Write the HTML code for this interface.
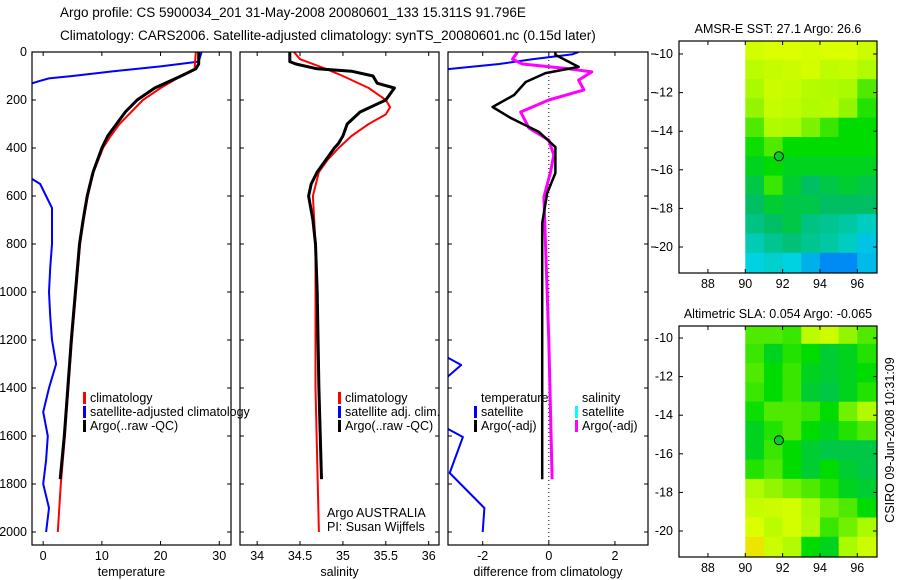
<!DOCTYPE html>
<html><head><meta charset="utf-8">
<style>
body{margin:0;background:#fff;}
svg{display:block;font-family:"Liberation Sans",sans-serif;}
text{font-size:12.5px;fill:#000;}
</style></head>
<body>
<svg id="c" width="900" height="580" viewBox="0 0 900 580">
<text x="60" y="17" style="font-size:13.5px">Argo profile: CS 5900034_201 31-May-2008 20080601_133 15.311S 91.796E</text>
<text x="60" y="40" style="font-size:13.5px">Climatology: CARS2006. Satellite-adjusted climatology: synTS_20080601.nc (0.15d later)</text>
</svg>
<script>
// ---------- data ----------
const depthTicks=[0,200,400,600,800,1000,1200,1400,1600,1800,2000];
const tempTicks=[0,10,20,30];
const salTicks=[34,34.5,35,35.5,36];
const diffTicks=[-2,0,2];
const tArgoD=[0,50,70,100,150,200,250,300,350,400,500,600,700,800,1000,1200,1400,1600,1780];
const tArgoV=[26.5,26.5,26,23.5,19,16,14,12.5,11,10,8.5,7.5,6.8,6.2,5.5,4.8,4.2,3.6,2.9];
const tClimD=[0,70,100,150,200,250,300,350,400,500,600,700,800,1000,1200,1400,1600,1800,2000];
const tClimV=[26,25.8,23.5,20,17,15,13,11.5,10.2,8.6,7.6,6.9,6.3,5.6,4.9,4.3,3.7,3.0,2.5];
const tSatD=[0,40,60,80,100,110,120,135,520,550,600,650,800,900,1000,1100,1200,1300,1400,1500,1600,1700,1800,1900,2000];
const tSatV=[27,26.5,20,12,5,1,-0.5,-2.5,-2.5,-0.5,0.5,1.5,1.5,1.2,1,1.2,1.5,2.2,1,0,0.8,0.5,0,1,0.5];
const sArgoD=[0,40,50,70,80,100,130,150,200,250,300,350,380,400,450,500,550,600,700,800,1000,1400,1780];
const sArgoV=[34.38,34.38,34.45,34.7,35.1,35.35,35.4,35.6,35.5,35.2,35.05,35.0,34.95,34.9,34.8,34.7,34.63,34.6,34.65,34.68,34.7,34.72,34.75];
const sClimD=[0,30,70,100,150,200,230,260,300,350,400,450,500,600,800,1400,2000];
const sClimV=[34.43,34.5,34.8,35.0,35.3,35.5,35.55,35.5,35.3,35.1,34.95,34.82,34.72,34.65,34.68,34.68,34.72];
const dTArgoD=[0,12,62,88,125,179,229,275,333,396,504,588,713,1000,1400,1780];
const dTArgoV=[0.2,0.2,0.9,-0.1,-0.7,-1.05,-1.7,-1.15,-0.3,0.2,0.2,-0.05,-0.2,-0.2,-0.2,-0.2];
const dSArgoD=[0,30,50,70,83,117,158,200,250,317,367,429,500,604,800,1200,1780];
const dSArgoV=[-0.95,-1.1,-0.8,0.6,1.3,0.9,1.06,0,-0.85,-0.6,0,0.15,0.05,-0.15,-0.1,0,0.1];
const dTSat1D=[0,10,30,50,65,72];
const dTSat1V=[0.9,0.7,-0.5,-1.5,-2.6,-3.1];
const dTSat2D=[1270,1304,1358];
const dTSat2V=[-3.1,-2.65,-3.1];
const dTSat3D=[1567,1604,1754,1900,2000];
const dTSat3V=[-3.1,-2.6,-3.0,-1.95,-2.0];
const lonTicks=[88,90,92,94,96];
const latTicks=[-10,-12,-14,-16,-18,-20];
const sstGrid=[
[.82,.84,.85,.83,.84,.84,.80],[.75,.78,.80,.82,.76,.78,.72],[.70,.80,.78,.74,.72,.70,.62],
[.68,.78,.76,.72,.74,.68,.58],[.62,.72,.70,.66,.60,.55,.55],[.56,.62,.55,.55,.55,.55,.55],
[.52,.55,.52,.52,.52,.52,.52],[.48,.60,.50,.45,.48,.50,.48],[.45,.50,.48,.48,.45,.45,.45],
[.40,.45,.48,.40,.38,.35,.30],[.32,.38,.42,.38,.35,.30,.22],[.25,.28,.25,.18,.10,.10,.20]];
const slaGrid=[
[.62,.62,.60,.75,.80,.68,.62],[.60,.52,.58,.55,.50,.52,.58],[.62,.55,.60,.52,.50,.52,.55],
[.60,.55,.60,.50,.48,.52,.58],[.56,.62,.62,.60,.55,.65,.72],[.52,.58,.62,.55,.52,.58,.62],
[.52,.60,.55,.50,.48,.48,.48],[.58,.62,.55,.50,.55,.50,.48],[.72,.68,.65,.62,.58,.52,.50],
[.78,.80,.82,.70,.65,.62,.55],[.85,.75,.82,.72,.60,.65,.70],[.92,.80,.72,.55,.52,.70,.80]];
const argoLon=91.8, argoLat=-15.3;

// ---------- drawing ----------
const S=document.getElementById('c');const NS='http://www.w3.org/2000/svg';
function mk(t,a,p){const e=document.createElementNS(NS,t);for(const k in a)e.setAttribute(k,a[k]);(p||S).appendChild(e);return e;}
const TOP=52,BOT=545;
const yD=d=>TOP+d*0.24;
const panels=[
 {x0:32,x1:231,vmin:-1.9,vmax:32,ticks:tempTicks,label:'temperature',name:'temperature-panel'},
 {x0:240,x1:439,vmin:33.8,vmax:36.12,ticks:salTicks,label:'salinity',name:'salinity-panel'},
 {x0:448,x1:648,vmin:-3.05,vmax:3.0,ticks:diffTicks,label:'difference from climatology',name:'difference-panel'}];
panels.forEach((p,i)=>{p.sx=v=>p.x0+(v-p.vmin)/(p.vmax-p.vmin)*(p.x1-p.x0);
 const g=mk('g',{});
 
 
 const cp=mk('clipPath',{id:'cp'+i},g);mk('rect',{x:p.x0,y:TOP,width:p.x1-p.x0,height:BOT-TOP},cp);
 p.g=mk('g',{'clip-path':'url(#cp'+i+')'},g);
 mk('rect',{x:p.x0,y:TOP,width:p.x1-p.x0,height:BOT-TOP,fill:'none',stroke:'#000','stroke-width':1.2},g);
 depthTicks.forEach(d=>{const y=yD(d);
  mk('line',{x1:p.x0,x2:p.x0+4,y1:y,y2:y,stroke:'#000'},g);mk('line',{x1:p.x1,x2:p.x1-4,y1:y,y2:y,stroke:'#000'},g);
  if(i==0){const t=mk('text',{x:27,y:y+4,'text-anchor':'end'},g);t.textContent=d;
   
   }});
 p.ticks.forEach(v=>{const x=p.sx(v);
  mk('line',{x1:x,x2:x,y1:BOT,y2:BOT-4,stroke:'#000'},g);mk('line',{x1:x,x2:x,y1:TOP,y2:TOP+4,stroke:'#000'},g);
  const t=mk('text',{x:x,y:560,'text-anchor':'middle'},g);t.textContent=v;
  
  });
 const t=mk('text',{x:(p.x0+p.x1)/2,y:576,'text-anchor':'middle'},g);t.textContent=p.label;
 
 
});
function line(pi,D,V,col,w,name){const p=panels[pi];
 const pts=D.map((d,k)=>p.sx(V[k]).toFixed(1)+','+yD(d).toFixed(1)).join(' ');
 const e=mk('polyline',{points:pts,fill:'none',stroke:col,'stroke-width':w,'stroke-linejoin':'round'},p.g);
 
 }
const zx=panels[2].sx(0);
mk('line',{x1:zx,x2:zx,y1:TOP,y2:BOT,stroke:'#000','stroke-dasharray':'1,3'},panels[2].g);
line(0,tSatD,tSatV,'#0000ff',2,'temp-satellite-adjusted-line');
line(0,tClimD,tClimV,'#ff0000',2,'temp-climatology-line');
line(0,tArgoD,tArgoV,'#000',3,'temp-argo-line');
line(1,sClimD,sClimV,'#ff0000',2,'sal-climatology-line');
line(1,sArgoD,sArgoV,'#000',3,'sal-argo-line');
line(2,dTSat1D,dTSat1V,'#0000ff',2,'diff-temp-satellite-line');
line(2,dTSat2D,dTSat2V,'#0000ff',2,'diff-temp-satellite-line');
line(2,dTSat3D,dTSat3V,'#0000ff',2,'diff-temp-satellite-line');
line(2,dSArgoD,dSArgoV,'#ff00ff',3,'diff-sal-argo-line');
line(2,dTArgoD,dTArgoV,'#000',2.5,'diff-temp-argo-line');
function leg(x,y,col,txt,name){if(col){const r=mk('rect',{x:x,y:y-10,width:3,height:12,fill:col});
 
 }
 const t=mk('text',{x:x+7,y:y});t.textContent=txt;
 
 }
leg(83,402,'#ff0000','climatology','legend-climatology');
leg(83,416,'#0000ff','satellite-adjusted climatology','legend-satellite-adjusted');
leg(83,430,'#000','Argo(..raw -QC)','legend-argo');
leg(338,402,'#ff0000','climatology','legend-sal-climatology');
leg(338,416,'#0000ff','satellite adj. clim.','legend-sal-satellite');
leg(338,430,'#000','Argo(..raw -QC)','legend-sal-argo');
leg(474,402,null,'temperature','legend-diff-temperature-header');
leg(474,416,'#0000ff','satellite','legend-diff-temp-satellite');
leg(474,430,'#000','Argo(-adj)','legend-diff-temp-argo');
leg(575,402,null,'salinity','legend-diff-salinity-header');
leg(575,416,'#00ffff','satellite','legend-diff-sal-satellite');
leg(575,430,'#ff00ff','Argo(-adj)','legend-diff-sal-argo');
leg(320,517,null,'Argo AUSTRALIA','argo-agency-label');
leg(320,531,null,'PI: Susan Wijffels','pi-label');
latTicks.forEach(l=>{const y=54+(-10-l)*19.3;mk('line',{x1:651,x2:656,y1:y,y2:y,stroke:'#000'});});
function cmap(v){const st=[[0,[0,90,255]],[.25,[0,210,225]],[.45,[0,190,100]],[.55,[0,220,0]],[.7,[170,250,0]],[.85,[220,255,0]],[1,[255,200,0]]];
 for(let i=1;i<st.length;i++)if(v<=st[i][0]){const a=st[i-1],b=st[i],f=(v-a[0])/(b[0]-a[0]);
  return 'rgb('+a[1].map((c,k)=>Math.round(c+(b[1][k]-c)*f)).join(',')+')';}return 'rgb(255,200,0)';}
function map(top,bot,y10,grid,title,name){
 const g=mk('g',{});
 
 
 const sx=lon=>679+(lon-86.45)*18.67, sy=lat=>y10+(-10-lat)*19.3;
 const cid='mc'+name;const cp=mk('clipPath',{id:cid},g);mk('rect',{x:679,y:top,width:198,height:bot-top},cp);
 const cg=mk('g',{'clip-path':'url(#'+cid+')'},g);
 grid.forEach((row,r)=>row.forEach((v,c)=>{const la=-9.3-r,lo=90+c;
  const e=mk('rect',{x:sx(lo),y:sy(la),width:18.67+1.2,height:19.3+1,fill:cmap(v)},cg);
  
  }));
 const ci=mk('circle',{cx:sx(argoLon),cy:sy(argoLat),r:4.5,fill:cmap(.52),stroke:'#000','stroke-width':1},g);
 
 
 mk('rect',{x:679,y:top,width:198,height:bot-top,fill:'none',stroke:'#000','stroke-width':1.2},g);
 lonTicks.forEach(l=>{const x=sx(l);mk('line',{x1:x,x2:x,y1:bot,y2:bot-4,stroke:'#000'},g);mk('line',{x1:x,x2:x,y1:top,y2:top+4,stroke:'#000'},g);
  const t=mk('text',{x:x,y:bot+15,'text-anchor':'middle'},g);t.textContent=l;
  
  });
 latTicks.forEach(l=>{const y=sy(l);mk('line',{x1:679,x2:683,y1:y,y2:y,stroke:'#000'},g);mk('line',{x1:877,x2:873,y1:y,y2:y,stroke:'#000'},g);
  const t=mk('text',{x:673,y:y+4,'text-anchor':'end'},g);t.textContent=l;
  
  });
 const t=mk('text',{x:778,y:top-8,'text-anchor':'middle'},g);t.textContent=title;
 
 
}
map(41,273,54,sstGrid,'AMSR-E SST: 27.1 Argo: 26.6','sst-map');
map(326,557,338,slaGrid,'Altimetric SLA: 0.054 Argo: -0.065','sla-map');
const ts=mk('text',{x:0,y:0,transform:'translate(894,440) rotate(-90)','text-anchor':'middle'});
ts.textContent='CSIRO 09-Jun-2008 10:31:09';


</script>
</body></html>
